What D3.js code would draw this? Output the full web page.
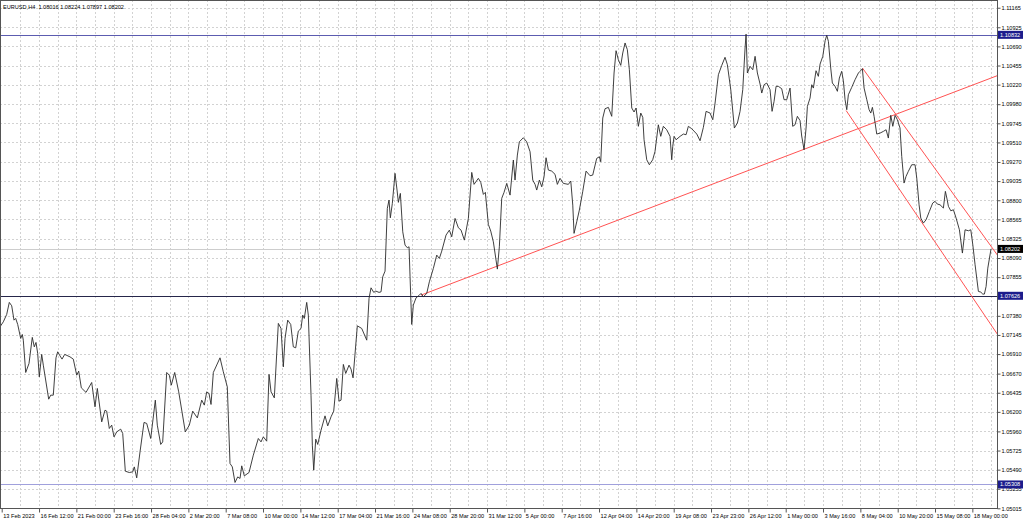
<!DOCTYPE html>
<html><head><meta charset="utf-8">
<script src="https://cdn.jsdelivr.net/npm/d3@7"></script>
<style>html,body{margin:0;padding:0;background:#fff;overflow:hidden}
text{font-family:"Liberation Sans",Arial,sans-serif;}</style>
</head><body><svg id="c" width="1024" height="521"></svg>
<script>
const symbol = "EURUSD,H4";
const lastOHLC = ["1.08016","1.08224","1.07897","1.08202"];

// bar index (H4 bars, first time label at bar 1) and close price
const bars = [0.27,1.69,3.14,4.26,5.29,6.27,7.0,7.86,9.14,9.83,10.26,11.29,12.7,14.11,14.97,15.7,16.43,17.11,18.14,18.83,21.14,22.0,23.11,24.27,25.0,25.99,26.85,28.0,30.27,31.69,33.14,34.0,35.12,37.13,39.57,40.99,41.98,43.86,45.27,46.0,47.12,48.15,49.13,50.29,52.0,52.86,53.98,55.69,57.15,57.83,58.86,60.28,61.99,63.15,64.86,66.84,67.69,69.15,70.0,71.72,72.84,73.69,75.15,76.86,79.69,81.41,82.86,84.84,
86.72,87.84,88.86,89.85,90.71,91.70,94.57,95.98,97.69,98.85,99.84,100.99,102.15,103.14,103.87,104.98,107.0,108.84,110.98,112.14,113.13,114.57,115.57,116.43,117.84,119.56,120.71,121.70,122.43,123.58,124.87,125.98,127.01,128.12,129.28,130.0,130.69,131.72,132.41,133.57,134.13,134.73,135.59,136.44,137.86,139.57,140.73,142.14,143.29,144.59,145.57,146.43,147.42,148.44,149.86,150.72,151.58,153.42,155.3,157.45,158.43,159.29,160.45,161.3,162.72,163.58,164.3,165.29,166.27,167.0,167.56,168.42,169.57,170.43,171.0,171.85,
172.88,173.87,174.85,175.58,176.01,176.73,177.42,178.58,179.99,180.72,181.71,183.16,184.28,186.0,187.45,188.57,189.59,191.43,192.85,193.87,195.29,196.71,197.87,199.28,201.0,202.45,203.44,205.28,206.31,207.43,208.28,209.57,210.59,211.71,213.43,214.28,215.3,216.3,217.45,218.87,220.28,221.0,222.0,222.85,224.57,226.0,227.44,228.6,229.58,230.3,231.43,232.45,233.44,234.3,235.28,236.73,238.15,239.14,240.29,241.71,243.86,244.89,245.75,246.3,247.45,248.57,250.0,251.44,253.15,254.3,256.0,257.14,
257.74,258.6,259.57,261.0,262.45,263.44,264.3,265.28,266.31,267.17,268.16,269.14,270.0,271.03,272.02,272.87,273.86,274.89,275.75,276.3,277.45,278.57,280.0,281.0,282.42,283.45,284.57,286.0,287.44,288.16,288.6,289.16,290.02,291.74,293.15,294.31,295.29,296.74,298.89,300.3,301.72,302.88,304.59,305.75,306.73,308.15,309.6,311.0,312.0,313.46,315.0,316.29,317.44,318.6,319.59,320.02,320.58,321.74,322.9,323.88,324.87,326.01,326.74,327.73,328.88,330.3,331.16,332.02,332.88,333.87,335.3,336.3,337.45,338.87,340.0,341.0,342.0,
343.15,343.86,344.87,345.73,346.3,347.44,348.16,348.86,350.0,351.0,351.74,352.9,353.9,354.6,355.3,356.3,357.0,358.17,359.15,360.0,361.0,361.72,362.45,363.17,363.86,365.3,366.73,368.16,368.88,369.87,370.6,371.76,372.75,373.47,374.16,374.89,376.03,377.45,378.87,380.03,381.0,382.03,382.9,383.88,384.87,386.0,386.73,387.72,388.58,389.57,391.0,392.44,393.17,394.16,394.89,396.0,397.16,398.58,400.0,401.0,402.0,403.15,404.58,405.44,406.06,406.74,407.77,408.88,410.03,411.45,412.73,413.88,415.3,416.33,417.19,418.17,419.59,420.62,421.47,422.16,422.89,423.62,425.0];

const closes = [1.07245,1.07306,1.07397,1.07545,1.07503,1.07327,1.07348,1.07274,1.07102,1.07151,1.07081,1.06684,1.06795,1.07115,1.06999,1.07053,1.06918,1.06630,1.06906,1.06774,1.06356,1.06405,1.06405,1.06864,1.06938,1.06888,1.06848,1.06906,1.06876,1.06848,1.06651,1.06700,1.06495,1.06439,1.06561,1.06262,1.06488,1.06077,1.06221,1.06209,1.05996,1.06037,1.05893,1.05954,1.05988,1.05935,1.05471,1.05455,1.05463,1.05524,1.05389,1.05709,1.06070,1.06058,1.05873,1.06344,1.06037,1.05800,1.05831,1.06684,1.06651,1.06528,1.06684,1.06446,1.05954,1.06037,1.06209,1.06126,
1.06344,1.06283,1.06446,1.06426,1.06291,1.06684,1.06864,1.06692,1.06507,1.05566,1.05524,1.05333,1.05401,1.05382,1.05537,1.05414,1.05455,1.05668,1.05873,1.05831,1.05893,1.05840,1.06660,1.06446,1.06372,1.07287,1.07225,1.06753,1.07102,1.07327,1.07274,1.06999,1.06987,1.07192,1.07225,1.07389,1.07348,1.07545,1.07389,1.06405,1.05791,1.05484,1.05865,1.05800,1.05975,1.06151,1.06028,1.06139,1.06209,1.06611,1.06332,1.06344,1.06783,1.06672,1.06774,1.06725,1.06618,1.07257,1.07225,1.07081,1.07594,1.07724,1.07668,1.07684,1.07668,1.07675,1.07859,1.07929,1.08700,1.08802,1.08584,1.08761,1.09130,1.08925,1.08774,1.08884,
1.08412,1.08249,1.08216,1.08228,1.07859,1.07274,1.07512,1.07601,1.07634,1.07655,1.07614,1.07655,1.07798,1.07963,1.08126,1.08085,1.08175,1.08372,1.08433,1.08351,1.08577,1.08462,1.08433,1.08310,1.08577,1.09142,1.08995,1.09069,1.09019,1.08872,1.08897,1.08503,1.08421,1.08289,1.07954,1.08228,1.08823,1.08897,1.09007,1.08863,1.09294,1.09048,1.09355,1.09518,1.09568,1.09518,1.09396,1.09048,1.08995,1.08925,1.09048,1.08965,1.09088,1.09322,1.09171,1.09158,1.09118,1.08995,1.09069,1.09007,1.08995,1.09036,1.08740,1.08393,1.08535,1.08679,1.08904,1.09158,1.09101,1.09109,1.09314,1.09334,
1.09273,1.09810,1.09924,1.09941,1.09831,1.10363,1.10637,1.10526,1.10457,1.10609,1.10732,1.10649,1.10403,1.09933,1.09884,1.09933,1.09708,1.09871,1.09818,1.09543,1.09297,1.09236,1.09297,1.09400,1.09727,1.09585,1.09708,1.09666,1.09585,1.09297,1.09462,1.09585,1.09543,1.09585,1.09613,1.09605,1.09708,1.09678,1.09613,1.09531,1.09695,1.09892,1.09871,1.09789,1.09994,1.10342,1.10457,1.10556,1.10465,1.10158,1.09687,1.09748,1.09892,1.10158,1.10670,1.10840,1.10363,1.10445,1.10403,1.10568,1.10363,1.10228,1.10117,1.10219,1.10240,1.10158,1.09892,1.10015,1.10199,1.10199,1.10170,1.10035,1.10035,1.10178,1.09708,1.09727,1.09831,
1.09779,1.09589,1.09420,1.09687,1.09954,1.10056,1.10219,1.10178,1.10391,1.10322,1.10473,1.10568,1.10760,1.10826,1.10752,1.10424,1.10240,1.10199,1.10138,1.10301,1.10384,1.10268,1.10035,1.09912,1.10096,1.10187,1.10281,1.10363,1.10384,1.10416,1.10178,1.10035,1.09912,1.09871,1.09941,1.09831,1.09613,1.09625,1.09646,1.09666,1.09564,1.09843,1.09708,1.09843,1.09789,1.09687,1.09339,1.09011,1.09093,1.09155,1.09236,1.09236,1.09072,1.08744,1.08581,1.08519,1.08560,1.08663,1.08765,1.08786,1.08753,1.08744,1.08704,1.08909,1.08827,1.08725,1.08670,1.08683,1.08581,1.08437,1.08151,1.08437,1.08425,1.08437,1.08253,1.08007,1.07680,1.07671,1.07647,1.07647,1.07741,1.07966,1.08202];

const priceTicks = [1.11165,1.10925,1.10690,1.10455,1.10220,1.09980,1.09745,1.09510,1.09270,1.09035,1.08800,1.08565,1.08325,1.08090,1.07855,1.07620,1.07380,1.07145,1.06910,1.06670,1.06435,1.06200,1.05960,1.05725,1.05490,1.05255,1.05015];

const timeLabels = ["13 Feb 2023","16 Feb 12:00","21 Feb 00:00","23 Feb 16:00","28 Feb 04:00","2 Mar 20:00","7 Mar 08:00","10 Mar 00:00","14 Mar 12:00","17 Mar 04:00","21 Mar 16:00","24 Mar 08:00","28 Mar 20:00","31 Mar 12:00","5 Apr 00:00","7 Apr 16:00","12 Apr 04:00","14 Apr 20:00","19 Apr 08:00","23 Apr 23:00","26 Apr 12:00","1 May 00:00","3 May 16:00","8 May 04:00","10 May 20:00","15 May 08:00","18 May 00:00"];
const barsPerLabel = 16;
const barsPerGrid = 8;

const levelPrices = [1.10832, 1.07626, 1.05308];
const levelLabels = ["1.10832", "1.07626", "1.05308"];
const lastPrice = 1.08202;

// red trend lines: two anchor points [bar, price], extended to the right edge
const trendUp      = [[180.7, 1.07634], [343.2, 1.09408]];
const channelUpper = [[369.9, 1.10424], [403.15, 1.09103]];
const channelLower = [[362.9, 1.09902], [403.15, 1.08196]];

// ---------- drawing ----------
const plotR = 997, plotB = 508;
const svg = d3.select("#c");
const x = d3.scaleLinear().domain([1, 1 + barsPerLabel * 26]).range([1.7, 1.7 + 26 * 37.333]);
const y = d3.scaleLinear().domain([1.05019, 1.11260]).range([plotB, 0]);

svg.append("rect").attr("width", 1024).attr("height", 521).attr("fill", "#fff");
svg.append("defs").append("clipPath").attr("id", "clip")
  .append("rect").attr("x", 0).attr("y", 0).attr("width", plotR).attr("height", plotB);

const px = v => Math.round(v) + 0.5;

// grid
const gridG = svg.append("g").attr("stroke", "#d2d2d2").attr("stroke-width", 1)
  .attr("stroke-dasharray", "2,2").attr("shape-rendering", "crispEdges");
const maxBar = x.invert(plotR);
const gridBars = d3.range(1 + barsPerGrid, maxBar, barsPerGrid);
gridG.selectAll("line.v").data(gridBars).join("line").attr("class", "v")
  .attr("x1", d => px(x(d))).attr("x2", d => px(x(d))).attr("y1", 0).attr("y2", plotB);
gridG.selectAll("line.h").data(priceTicks).join("line").attr("class", "h")
  .attr("x1", 0).attr("x2", plotR).attr("y1", d => px(y(d))).attr("y2", d => px(y(d)));

const plot = svg.append("g").attr("clip-path", "url(#clip)");

// current price line
plot.append("line").attr("x1", 0).attr("x2", plotR)
  .attr("y1", px(y(lastPrice))).attr("y2", px(y(lastPrice)))
  .attr("stroke", "#cdcdcd").attr("stroke-width", 1).attr("shape-rendering", "crispEdges");

// horizontal levels
const levelColors = ["#5c5cb0", "#26264a", "#a0a0dc"];
plot.selectAll("line.lvl").data(levelPrices).join("line").attr("class", "lvl")
  .attr("x1", 0).attr("x2", plotR)
  .attr("y1", d => px(y(d))).attr("y2", d => px(y(d)))
  .attr("stroke", (d, i) => levelColors[i]).attr("stroke-width", 1).attr("shape-rendering", "crispEdges");

// trend lines (rays to right edge)
function ray(pts) {
  const [a, b] = pts;
  const slope = (b[1] - a[1]) / (b[0] - a[0]);
  const endBar = maxBar + 2;
  return [a, [endBar, a[1] + slope * (endBar - a[0])]];
}
const rayLine = d3.line().x(d => x(d[0])).y(d => y(d[1]));
[trendUp, channelUpper, channelLower].forEach(t => {
  plot.append("path").attr("d", rayLine(ray(t))).attr("fill", "none")
    .attr("stroke", "#ff5252").attr("stroke-width", 1);
});

// price line
const series = bars.map((b, i) => [b, closes[i]]);
plot.append("path").attr("d", d3.line().x(d => x(d[0])).y(d => y(d[1]))(series))
  .attr("fill", "none").attr("stroke", "#2a2a2a").attr("stroke-width", 0.9)
  .attr("stroke-linejoin", "round");

// frame
svg.append("rect").attr("x", 0.5).attr("y", 0.5).attr("width", plotR).attr("height", plotB)
  .attr("fill", "none").attr("stroke", "#555").attr("stroke-width", 1).attr("shape-rendering", "crispEdges");

// right axis
const fs = 5.6;
const yAxis = d3.axisRight(y).tickValues(priceTicks).tickFormat(d3.format(".5f"))
  .tickSizeInner(3).tickSizeOuter(0).tickPadding(1);
const ya = svg.append("g").attr("transform", `translate(${plotR + 0.5},0)`).call(yAxis);
ya.select(".domain").remove();
ya.selectAll("line").attr("stroke", "#555");
ya.selectAll("text").attr("font-size", fs).attr("fill", "#000")
  .attr("font-family", '"Liberation Sans", Arial, sans-serif');

// bottom axis
const labelBars = timeLabels.map((d, i) => 1 + i * barsPerLabel);
const xAxis = d3.axisBottom(x).tickValues(labelBars).tickFormat((d, i) => timeLabels[i])
  .tickSizeInner(4).tickSizeOuter(0).tickPadding(1.5);
const xa = svg.append("g").attr("transform", `translate(0,${plotB + 0.5})`).call(xAxis);
xa.select(".domain").remove();
xa.selectAll("line").attr("stroke", "#555");
xa.selectAll("text").attr("font-size", fs).attr("fill", "#000").attr("text-anchor", "start")
  .attr("dx", 1).attr("font-family", '"Liberation Sans", Arial, sans-serif');

// price boxes on axis
function priceBox(p, label, bg) {
  const cy = y(p);
  svg.append("rect").attr("x", plotR + 1).attr("y", cy - 4).attr("width", 25).attr("height", 8).attr("fill", bg);
  svg.append("text").attr("x", plotR + 3).attr("y", cy).attr("dy", "0.36em")
    .attr("font-size", fs).attr("fill", "#fff").text(label);
}
levelPrices.forEach((p, i) => priceBox(p, levelLabels[i], "#1c1c8c"));
priceBox(lastPrice, lastOHLC[3], "#000");

// title
svg.append("text").attr("x", 3).attr("y", 9).attr("font-size", fs).attr("fill", "#000")
  .attr("xml:space", "preserve")
  .text(symbol + "  " + lastOHLC.join(" "));
</script>
</body></html>
